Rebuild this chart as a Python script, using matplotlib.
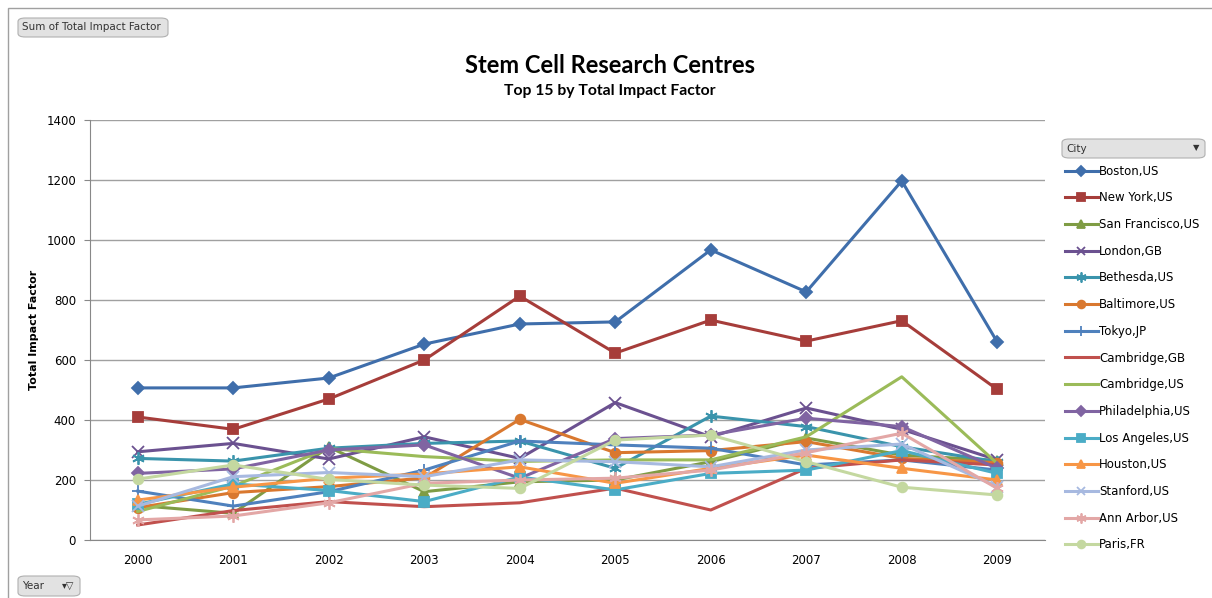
import matplotlib
matplotlib.use('Agg')
import matplotlib.pyplot as plt
from matplotlib.patches import FancyBboxPatch, Rectangle
import numpy as np

years = ['2000', '2001', '2002', '2003', '2004', '2005', '2006', '2007', '2008', '2009']

cities = ['Boston,US', 'New York,US', 'San Francisco,US', 'London,GB', 'Bethesda,US',
          'Baltimore,US', 'Tokyo,JP', 'Cambridge,GB', 'Cambridge,US', 'Philadelphia,US',
          'Los Angeles,US', 'Houston,US', 'Stanford,US', 'Ann Arbor,US', 'Paris,FR']

boston = [507, 507, 540, 653, 720, 727, 967, 827, 1197, 660]
new_york = [410, 369, 470, 600, 813, 623, 733, 663, 731, 502]
san_francisco = [115, 89, 310, 161, 194, 200, 261, 340, 283, 265]
london = [294, 322, 270, 344, 272, 458, 344, 440, 369, 267]
bethesda = [272, 263, 306, 322, 330, 239, 413, 378, 311, 261]
baltimore = [108, 158, 178, 207, 402, 291, 298, 328, 272, 258]
tokyo = [163, 113, 161, 233, 330, 317, 306, 250, 267, 233]
cambridge_gb = [50, 98, 128, 111, 124, 173, 100, 239, 267, 250]
cambridge_us = [95, 180, 305, 278, 262, 267, 267, 344, 544, 255]
philadelphia = [222, 237, 300, 317, 206, 338, 350, 406, 378, 239]
los_angeles = [119, 187, 165, 128, 210, 167, 222, 233, 298, 222]
houston = [133, 176, 206, 220, 244, 189, 239, 283, 239, 200]
stanford = [113, 211, 225, 211, 267, 261, 244, 300, 320, 178]
ann_arbor = [67, 80, 124, 189, 200, 206, 233, 291, 356, 172]
paris = [203, 250, 202, 183, 172, 333, 350, 261, 176, 150]

series = [boston, new_york, san_francisco, london, bethesda, baltimore, tokyo,
          cambridge_gb, cambridge_us, philadelphia, los_angeles, houston,
          stanford, ann_arbor, paris]

colors = ['#3F6EAB', '#A63D3A', '#7F9C44', '#6B5190', '#3A94AC', '#D9782F',
          '#4F81BD', '#C0504D', '#9BBB59', '#8064A2', '#4BACC6', '#F79646',
          '#A7B9E0', '#E3A7A6', '#C4D8A0']
star = (6, 2, 0)
markers = ['D', 's', '^', 'x', star, 'o', '+', None, None, 'D', 's', '^', 'x', star, 'o']
msizes = [6, 7, 7, 8, 9, 7, 9, 0, 0, 6, 7, 7, 8, 9, 7]

fig = plt.figure(figsize=(12.12, 5.98), dpi=100)
ax = fig.add_axes([90 / 1212, 1 - 540 / 598, (1045 - 90) / 1212, 420 / 598])

x = np.arange(len(years))
for vals, name, c, m, ms in zip(series, cities, colors, markers, msizes):
    ax.plot(x, vals, color=c, lw=2.2, marker=m, markersize=ms,
            markeredgewidth=1.3, label=name, solid_joinstyle='round')

ax.set_xlim(-0.5, len(years) - 0.5)
ax.set_ylim(0, 1400)
ax.set_yticks(range(0, 1401, 200))
ax.set_xticks(x)
ax.set_xticklabels(years)
ax.yaxis.grid(True, color='#A0A0A0', lw=1)
ax.set_axisbelow(True)
for s in ['top', 'right']:
    ax.spines[s].set_visible(False)
ax.spines['left'].set_color('#888888')
ax.spines['bottom'].set_color('#888888')
ax.tick_params(axis='both', labelsize=8.5, length=4, color='#888888', pad=6)
ax.tick_params(axis='x', length=0, pad=10)
ax.set_ylabel('Total Impact Factor', fontsize=8, fontweight='bold', labelpad=5)

fig.text(0.503, 0.891, 'Stem Cell Research Centres', ha='center', va='center',
         fontsize=17, fontweight='bold', family='Lato')
fig.text(0.503, 0.848, 'Top 15 by Total Impact Factor', ha='center', va='center',
         fontsize=11.3, fontweight='bold', family='Lato')

leg = fig.legend(loc='upper left', bbox_to_anchor=(1060 / 1212, 1 - 160 / 598),
                 frameon=False, fontsize=8.5, labelspacing=1.16, handlelength=2.8,
                 handletextpad=0.1, borderaxespad=0, markerscale=0.8)

# outer chart border
fig.patches.append(Rectangle((8 / 1212, -0.01), 1.0, 1 - 8 / 598 + 0.01,
                             transform=fig.transFigure, fill=False,
                             edgecolor='#A0A0A0', lw=1))


def button(x0, y0, w, h, text):
    fig.patches.append(FancyBboxPatch((x0 / 1212, 1 - (y0 + h) / 598), w / 1212, h / 598,
                                      boxstyle='round,pad=0,rounding_size=0.006',
                                      transform=fig.transFigure, facecolor='#E2E2E2',
                                      edgecolor='#B0B0B0', lw=0.8))
    fig.text((x0 + 4) / 1212, 1 - (y0 + h / 2) / 598, text, fontsize=7.5,
             va='center', ha='left', color='#333333')


button(18, 18, 150, 19, 'Sum of Total Impact Factor')
button(18, 576, 62, 20, 'Year')
fig.text(62 / 1212, 1 - 586 / 598, '\u25BE\u25BD', fontsize=7, va='center', color='#333333')
button(1062, 139, 143, 19, 'City')
fig.text(1196 / 1212, 1 - 148 / 598, '\u25BC', fontsize=6, va='center', ha='center', color='#333333')

fig.savefig('out.png', dpi=100)
